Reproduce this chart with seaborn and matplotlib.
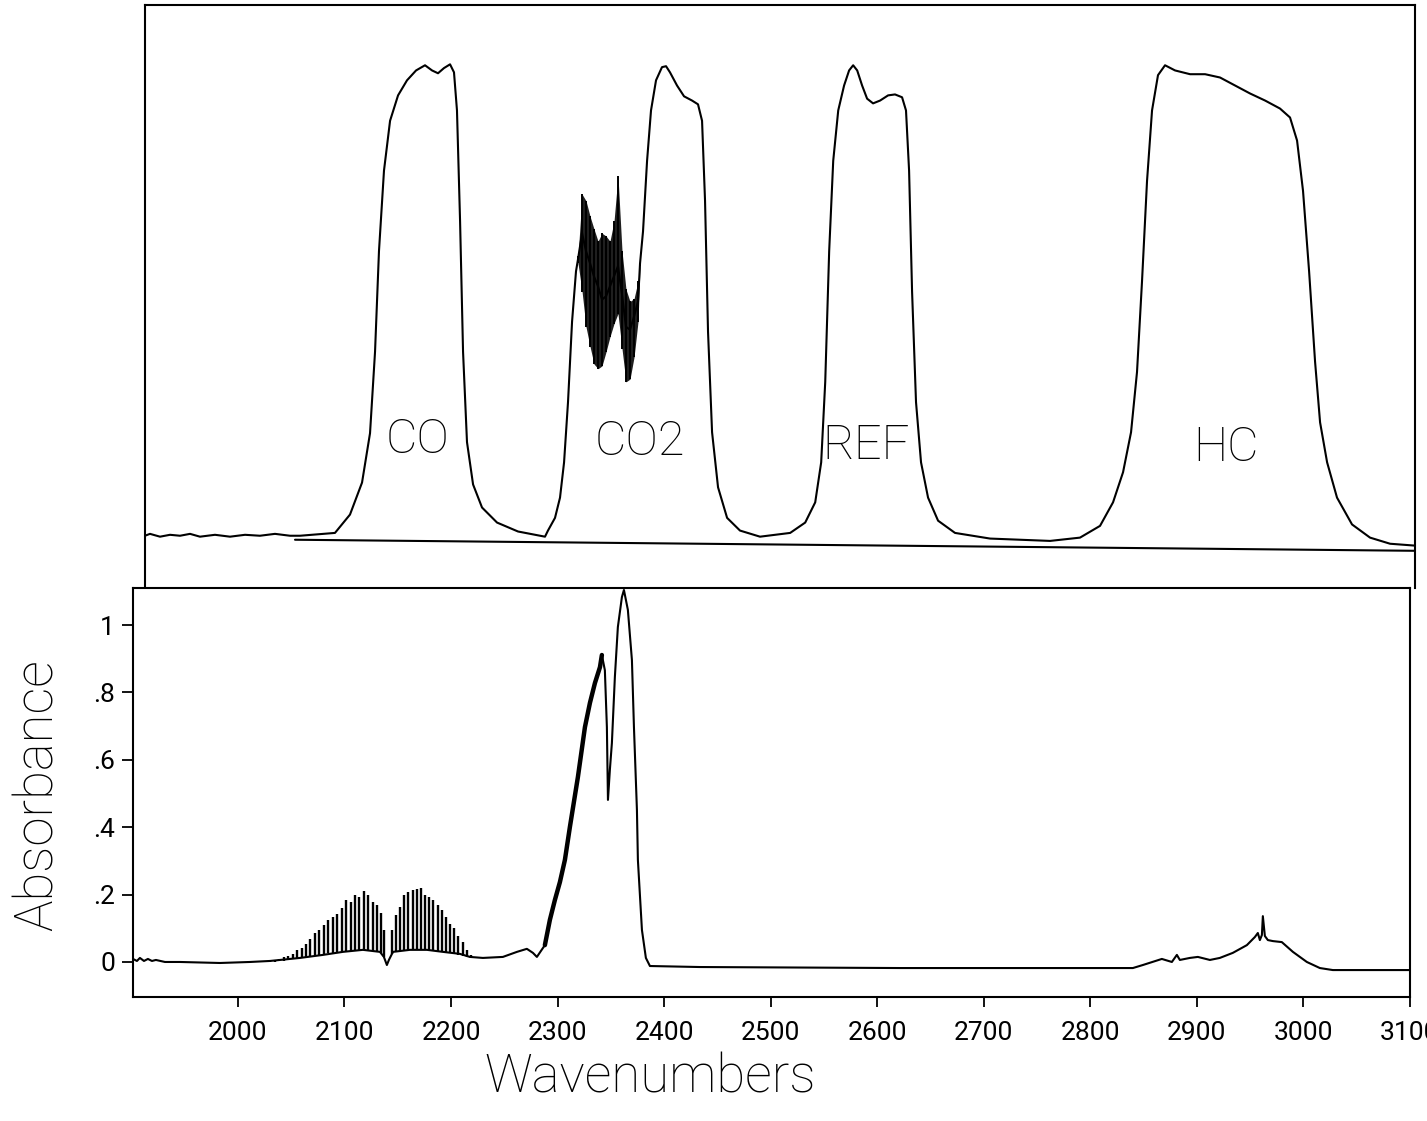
import matplotlib
matplotlib.use('Agg')
import matplotlib.pyplot as plt
import seaborn as sns
import pandas as pd

# ---------------- top panel: filter transmission (arbitrary %, baseline 0) ----------------
base_wn = [1912.7, 1917.4, 1926.8, 1936.2, 1945.6, 1955.0, 1964.3, 1978.4, 1992.5, 2006.6,
           2020.6, 2034.7, 2048.8, 2058.2]
base_t = [0.0, 0.4, -0.2, 0.2, 0.0, 0.4, -0.2, 0.2, -0.2, 0.2, 0.0, 0.4, 0.0, 0.0]

co_wn = [2091.0, 2105.1, 2116.4, 2123.9, 2128.6, 2132.3, 2137.0, 2142.7, 2150.2, 2158.6,
         2167.1, 2175.5, 2182.1, 2187.7, 2193.3, 2199.0, 2202.7, 2205.5, 2208.4, 2211.2,
         2214.9, 2220.6, 2229.0, 2243.1, 2262.8, 2288.1]
co_t = [0.6, 4.5, 11.3, 21.8, 39.1, 60.5, 77.6, 88.2, 93.6, 96.8,
        98.9, 100.0, 98.9, 98.3, 99.4, 100.2, 98.5, 90.4, 66.9, 39.1,
        19.9, 10.9, 6.0, 2.8, 0.9, -0.2]

co2_rise_wn = [2290.9, 2297.5, 2302.2, 2306.0, 2309.7, 2313.5, 2317.2]
co2_rise_t = [1.1, 3.8, 8.1, 15.6, 28.4, 45.5, 56.2]

# region disturbed by CO2 absorption lines
co2_noise_wn = [2319.1, 2322.9, 2326.6, 2330.4, 2334.1, 2337.9, 2341.6, 2345.4, 2349.1,
                2352.9, 2356.6, 2360.4, 2364.1, 2367.9, 2371.7, 2375.4, 2377.3]
co2_noise_hi = [59.4, 72.6, 71.2, 67.9, 65.2, 62.6, 64.3, 63.7, 62.6,
                66.9, 76.5, 60.5, 52.4, 49.8, 50.4, 54.1, 57.9]
co2_noise_lo = [57.9, 51.9, 44.4, 40.2, 36.5, 35.5, 36.1, 39.1, 42.3,
                45.1, 47.2, 39.7, 32.7, 33.3, 38.0, 45.5, 57.3]
co2_noise_mid = [58.8, 64.3, 60.5, 57.9, 55.1, 53.0, 50.2, 50.9, 53.0,
                 55.1, 57.3, 51.3, 44.4, 43.8, 46.6, 49.8, 57.9]

co2_fall_wn = [2380.1, 2383.9, 2387.6, 2392.3, 2397.9, 2401.7, 2405.4, 2412.0, 2418.6, 2426.1,
               2431.7, 2435.5, 2438.3, 2441.1, 2444.9, 2450.5, 2459.0, 2471.1, 2489.9]
co2_fall_t = [64.7, 79.7, 90.4, 96.8, 99.6, 99.8, 98.5, 95.7, 93.4, 92.5,
              91.7, 88.2, 71.2, 43.4, 22.0, 10.3, 3.8, 1.1, -0.2]

ref_wn = [2518.2, 2532.3, 2541.7, 2547.3, 2551.1, 2554.8, 2558.6, 2563.3, 2568.8, 2573.5,
          2577.3, 2581.1, 2585.7, 2590.4, 2596.0, 2602.6, 2610.1, 2616.6, 2623.2, 2626.9,
          2629.8, 2632.6, 2636.3, 2641.0, 2647.6, 2657.0, 2672.9, 2705.8]
ref_t = [0.6, 2.8, 7.1, 15.6, 32.7, 60.5, 79.7, 90.4, 95.7, 98.9,
         100.0, 98.9, 95.7, 92.9, 91.9, 92.5, 93.6, 93.8, 93.2, 90.4,
         77.6, 51.9, 28.4, 15.6, 8.1, 3.2, 0.6, -0.6]

hc_wn = [2762.1, 2790.2, 2809.0, 2821.2, 2830.6, 2838.1, 2843.7, 2848.4, 2853.1, 2857.8,
         2863.4, 2870.0, 2879.4, 2893.5, 2907.6, 2921.6, 2935.7, 2949.8, 2963.9, 2977.9,
         2987.3, 2993.9, 2999.5, 3005.2, 3010.8, 3015.5, 3022.1, 3031.4, 3045.5, 3062.4,
         3081.2, 3104.6]
hc_t = [-1.1, -0.4, 2.1, 7.1, 13.5, 22.0, 34.8, 54.1, 75.4, 90.4,
        97.9, 100.0, 98.9, 98.1, 98.1, 97.4, 95.7, 94.0, 92.5, 90.8,
        88.9, 84.0, 73.3, 56.2, 37.0, 24.1, 15.6, 8.1, 2.4, -0.4,
        -1.7, -2.1]

zero_line_wn = [2053.5, 3104.6]
zero_line_t = [-0.85, -3.2]

filter_names = ['CO', 'CO2', 'REF', 'HC']
filter_label_wn = [2168.9, 2377.3, 2589.4, 2927.3]
filter_label_t = [20.5, 19.9, 19.2, 18.8]

# ---------------- bottom panel: absorbance spectrum ----------------
abs_wn = [1901.5, 1905.2, 1908.0, 1911.8, 1915.5, 1919.3, 1923.0, 1931.5, 1945.6, 1983.1,
          2011.3, 2030.0, 2058.2, 2079.8, 2098.5, 2117.3, 2133.3, 2137.0, 2139.8, 2141.7,
          2145.5, 2161.4, 2177.4, 2192.4, 2208.4, 2217.7, 2229.9, 2248.7, 2261.9, 2271.2,
          2276.9, 2280.6, 2288.1, 2292.8, 2297.5, 2302.2, 2306.9, 2311.6, 2319.1, 2325.7,
          2330.4, 2335.1, 2339.8, 2341.6, 2344.4, 2346.3, 2347.3, 2349.1, 2351.0, 2353.8,
          2356.6, 2360.4, 2362.3, 2366.0, 2369.8, 2371.7, 2374.5, 2375.4, 2379.2, 2382.9,
          2386.7, 2433.6, 2621.3, 2840.0, 2849.4, 2867.2, 2876.6, 2881.3, 2884.1, 2893.5,
          2901.0, 2912.3, 2921.6, 2933.8, 2947.0, 2954.5, 2957.3, 2959.2, 2961.1, 2962.0,
          2963.9, 2966.7, 2971.4, 2979.8, 2990.2, 3003.3, 3015.5, 3027.7, 3100.0]
abs_val = [0.009, 0.003, 0.012, 0.003, 0.009, 0.003, 0.006, 0.0, 0.0, -0.003,
           0.0, 0.003, 0.012, 0.021, 0.030, 0.036, 0.030, 0.015, -0.009, 0.006,
           0.030, 0.036, 0.036, 0.030, 0.024, 0.015, 0.012, 0.015, 0.030, 0.039,
           0.027, 0.015, 0.050, 0.125, 0.184, 0.237, 0.303, 0.401, 0.549, 0.697,
           0.769, 0.828, 0.875, 0.911, 0.866, 0.697, 0.481, 0.570, 0.650, 0.846,
           0.994, 1.083, 1.104, 1.045, 0.896, 0.697, 0.451, 0.303, 0.095, 0.012,
           -0.012, -0.015, -0.018, -0.018, -0.009, 0.009, 0.0, 0.021, 0.006, 0.012,
           0.015, 0.006, 0.012, 0.027, 0.050, 0.074, 0.086, 0.065, 0.080, 0.136,
           0.077, 0.065, 0.062, 0.059, 0.030, 0.0, -0.018, -0.024, -0.024]

# CO rotational lines, P branch
p_wn = [2030.0, 2034.7, 2038.8, 2042.9, 2047.2, 2051.3, 2055.4, 2059.8, 2063.8, 2067.9,
        2072.3, 2076.3, 2080.4, 2084.8, 2088.9, 2093.2, 2097.3, 2101.4, 2105.8, 2109.8,
        2113.8, 2118.3, 2122.3, 2126.4, 2130.5, 2134.5, 2137.3]
p_peak = [0.003, 0.006, 0.009, 0.014, 0.018, 0.024, 0.036, 0.041, 0.053, 0.067,
          0.085, 0.095, 0.110, 0.125, 0.134, 0.142, 0.159, 0.184, 0.179, 0.199,
          0.194, 0.212, 0.199, 0.179, 0.169, 0.144, 0.095]
p_base = [0.0, 0.0, 0.002, 0.004, 0.006, 0.008, 0.010, 0.012, 0.015, 0.017,
          0.020, 0.022, 0.024, 0.026, 0.028, 0.030, 0.031, 0.032, 0.034, 0.035,
          0.036, 0.036, 0.035, 0.034, 0.032, 0.028, 0.016]

# CO rotational lines, R branch
r_wn = [2144.3, 2148.3, 2152.0, 2155.8, 2159.8, 2164.0, 2167.7, 2171.5, 2175.5, 2179.5,
        2183.3, 2187.4, 2191.2, 2195.2, 2199.0, 2202.7, 2206.8, 2210.9, 2214.6, 2218.4]
r_peak = [0.095, 0.139, 0.164, 0.199, 0.209, 0.214, 0.218, 0.221, 0.199, 0.194,
          0.184, 0.169, 0.154, 0.134, 0.114, 0.100, 0.077, 0.060, 0.036, 0.021]
r_base = [0.025, 0.030, 0.033, 0.035, 0.036, 0.036, 0.036, 0.036, 0.036, 0.035,
          0.033, 0.031, 0.030, 0.028, 0.026, 0.024, 0.021, 0.018, 0.015, 0.013]

x_ticks = [2000, 2100, 2200, 2300, 2400, 2500, 2600, 2700, 2800, 2900, 3000, 3100]
y_ticks = [0, 0.2, 0.4, 0.6, 0.8, 1.0]
y_tick_labels = ['0', '.2', '.4', '.6', '.8', '1']

# ---------------- plotting ----------------
sns.set_theme(style='white')
plt.rcParams['font.family'] = ['Roboto', 'DejaVu Sans']
plt.rcParams['text.color'] = 'black'

fig = plt.figure(figsize=(14.27, 11.21), dpi=100, facecolor='white')
ax_top = fig.add_axes([0.1016, 0.4755, 0.8900, 0.5200])
ax_bot = fig.add_axes([0.0932, 0.1106, 0.8948, 0.3649])

lw = 1.5
top_df = pd.DataFrame({
    'wn': base_wn + co_wn + co2_rise_wn + co2_noise_wn + co2_fall_wn + ref_wn + hc_wn,
    't': base_t + co_t + co2_rise_t + co2_noise_mid + co2_fall_t + ref_t + hc_t,
})
sns.lineplot(data=top_df, x='wn', y='t', ax=ax_top, color='black', linewidth=lw,
             sort=False, estimator=None)
sns.lineplot(x=zero_line_wn, y=zero_line_t, ax=ax_top, color='black', linewidth=lw,
             sort=False, estimator=None)
# dense absorption structure inside the CO2 filter
ax_top.fill_between(co2_noise_wn, co2_noise_lo, co2_noise_hi, color='black', alpha=0.88, lw=0)
ax_top.vlines(co2_noise_wn, co2_noise_lo, co2_noise_hi, color='black', lw=1.4)

for name, x, y in zip(filter_names, filter_label_wn, filter_label_t):
    ax_top.text(x, y, name, ha='center', va='center', fontsize=35, fontweight='light')

ax_top.set_xlim(1912.7, 3104.6)
ax_top.set_ylim(-11.1, 112.8)
ax_top.set_xticks([])
ax_top.set_yticks([])
ax_top.set_xlabel('')
ax_top.set_ylabel('')
ax_top.set_facecolor('none')
ax_top.spines['bottom'].set_visible(False)
for s in ['left', 'top', 'right']:
    ax_top.spines[s].set_color('black')
    ax_top.spines[s].set_linewidth(1.5)

# bottom: absorbance
abs_df = pd.DataFrame({'wn': abs_wn, 'A': abs_val})
sns.lineplot(data=abs_df, x='wn', y='A', ax=ax_bot, color='black', linewidth=lw,
             sort=False, estimator=None)
# rotational structure on the left flank of the CO2 band
sns.lineplot(data=abs_df.iloc[32:44], x='wn', y='A', ax=ax_bot, color='black',
             linewidth=3.2, sort=False, estimator=None)
ax_bot.vlines(p_wn, p_base, p_peak, color='black', lw=1.7)
ax_bot.vlines(r_wn, r_base, r_peak, color='black', lw=1.7)

ax_bot.set_xlim(1901.5, 3100)
ax_bot.set_ylim(-0.104, 1.11)
ax_bot.set_xticks(x_ticks)
ax_bot.set_xticklabels([str(t) for t in x_ticks])
ax_bot.set_yticks(y_ticks)
ax_bot.set_yticklabels(y_tick_labels)
ax_bot.tick_params(axis='x', direction='out', length=7, width=1.3, pad=10,
                   labelsize=19, bottom=True, colors='black')
ax_bot.tick_params(axis='y', direction='out', length=8, width=1.3, pad=5,
                   labelsize=19, left=True, colors='black')
ax_bot.set_xlabel('')
ax_bot.set_ylabel('')
for s in ['left', 'top', 'right', 'bottom']:
    ax_bot.spines[s].set_color('black')
    ax_bot.spines[s].set_linewidth(1.5)

fig.text(0.4555, 0.0385, 'Wavenumbers', ha='center', va='center', fontsize=38,
         fontweight='light')
fig.text(0.0265, 0.2908, 'Absorbance', ha='center', va='center', rotation=90,
         fontsize=38, fontweight='light')

fig.savefig('out.png', dpi=100, facecolor='white')
